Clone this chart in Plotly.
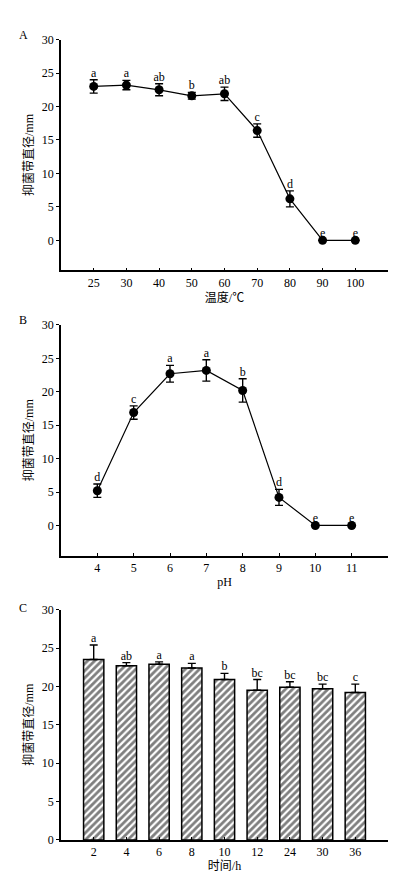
import plotly.graph_objects as go

# Panel A: temperature
temp_labels = ["25", "30", "40", "50", "60", "70", "80", "90", "100"]
temp_vals = [23.0, 23.2, 22.5, 21.6, 21.9, 16.4, 6.2, 0.0, 0.0]
temp_err = [1.0, 0.7, 0.9, 0.5, 1.0, 1.0, 1.2, 0.0, 0.0]
temp_letters = ["a", "a", "ab", "b", "ab", "c", "d", "e", "e"]

# Panel B: pH
ph_labels = ["4", "5", "6", "7", "8", "9", "10", "11"]
ph_vals = [5.2, 16.9, 22.7, 23.2, 20.2, 4.2, 0.0, 0.0]
ph_err = [1.0, 1.0, 1.25, 1.6, 1.75, 1.2, 0.0, 0.0]
ph_letters = ["d", "c", "a", "a", "b", "d", "e", "e"]

# Panel C: time
time_labels = ["2", "4", "6", "8", "10", "12", "24", "30", "36"]
time_vals = [23.5, 22.7, 22.9, 22.4, 20.9, 19.5, 19.9, 19.7, 19.2]
time_err = [1.9, 0.4, 0.3, 0.6, 0.8, 1.4, 0.7, 0.6, 1.1]
time_letters = ["a", "ab", "a", "a", "b", "bc", "bc", "bc", "c"]

yticks = [0, 5, 10, 15, 20, 25, 30]
ytitle = "抑菌带直径/mm"

W, H = 396, 878
FONT = "Liberation Serif, Times New Roman, Noto Sans CJK SC, serif"
FS = 12
fig = go.Figure()

def ydom(top_px, bot_px):
    return [1 - bot_px / H, 1 - top_px / H]

xdom = [53 / W, 380 / W]

panels = [
    dict(x="x", y="y", xa="xaxis", ya="yaxis", dom=ydom(25, 259.6), rng=[-4.5, 30]),
    dict(x="x2", y="y2", xa="xaxis2", ya="yaxis2", dom=ydom(315, 549.3), rng=[-4.5, 30]),
    dict(x="x3", y="y3", xa="xaxis3", ya="yaxis3", dom=ydom(604.3, 838.3), rng=[0, 30]),
]

def letters_trace(xs, vals, errs, letters, xa, ya):
    return go.Scatter(
        x=xs, y=[v + e for v, e in zip(vals, errs)], mode="text",
        text=letters, textposition="top center", xaxis=xa, yaxis=ya,
        textfont=dict(family=FONT, size=FS, color="#000000"),
        hoverinfo="skip", showlegend=False)

# A
fig.add_trace(go.Scatter(
    x=temp_labels, y=temp_vals, mode="lines+markers", xaxis="x", yaxis="y",
    line=dict(color="black", width=1.2),
    marker=dict(color="black", size=9),
    error_y=dict(type="data", array=temp_err, color="black", thickness=1.4, width=4),
    showlegend=False))
fig.add_trace(letters_trace(temp_labels, temp_vals, temp_err, temp_letters, "x", "y"))

# B
fig.add_trace(go.Scatter(
    x=ph_labels, y=ph_vals, mode="lines+markers", xaxis="x2", yaxis="y2",
    line=dict(color="black", width=1.2),
    marker=dict(color="black", size=9),
    error_y=dict(type="data", array=ph_err, color="black", thickness=1.4, width=4),
    showlegend=False))
fig.add_trace(letters_trace(ph_labels, ph_vals, ph_err, ph_letters, "x2", "y2"))

# C
fig.add_trace(go.Bar(
    x=time_labels, y=time_vals, xaxis="x3", yaxis="y3", width=0.62,
    marker=dict(color="white", line=dict(color="black", width=1.5),
                pattern=dict(shape="/", fgcolor="black", bgcolor="white", size=5, solidity=0.55)),
    error_y=dict(type="data", symmetric=False, array=time_err, arrayminus=[0] * len(time_err),
                 color="black", thickness=1.4, width=4),
    showlegend=False))
fig.add_trace(letters_trace(time_labels, time_vals, time_err, time_letters, "x3", "y3"))

xtitles = ["温度/℃", "pH", "时间/h"]
xcats = [temp_labels, ph_labels, time_labels]
xranges = [[-1, 9], [-1, 8], [-1, 9]]

layout = dict(
    width=W, height=H, margin=dict(l=0, r=0, t=0, b=0),
    paper_bgcolor="white", plot_bgcolor="white",
    font=dict(family=FONT, size=FS, color="black"),
)
for i, p in enumerate(panels):
    layout[p["xa"]] = dict(
        domain=xdom, anchor=p["y"], type="category", categoryorder="array",
        categoryarray=xcats[i], range=xranges[i],
        showline=True, linecolor="black", linewidth=1.5,
        ticks="inside", ticklen=3, tickcolor="black", tickwidth=1,
        showgrid=False, zeroline=False,
        tickfont=dict(family=FONT, size=FS),
        title=dict(text=xtitles[i], font=dict(family=FONT, size=FS), standoff=4),
    )
    layout[p["ya"]] = dict(
        domain=p["dom"], anchor=p["x"], range=p["rng"], tickvals=yticks,
        showline=True, linecolor="black", linewidth=1.5,
        ticks="outside", ticklen=3, tickcolor="black", tickwidth=1,
        showgrid=False, zeroline=False,
        tickfont=dict(family=FONT, size=FS),
        title=dict(text=ytitle, font=dict(family=FONT, size=FS), standoff=6),
    )

fig.update_layout(**layout)

for lab, ypx in [("A", 20), ("B", 310), ("C", 603)]:
    fig.add_annotation(text=lab, x=15 / W, y=1 - ypx / H, xref="paper", yref="paper",
                       showarrow=False, xanchor="center", yanchor="middle",
                       font=dict(family=FONT, size=FS, color="black"))

fig.write_html("out.html")
